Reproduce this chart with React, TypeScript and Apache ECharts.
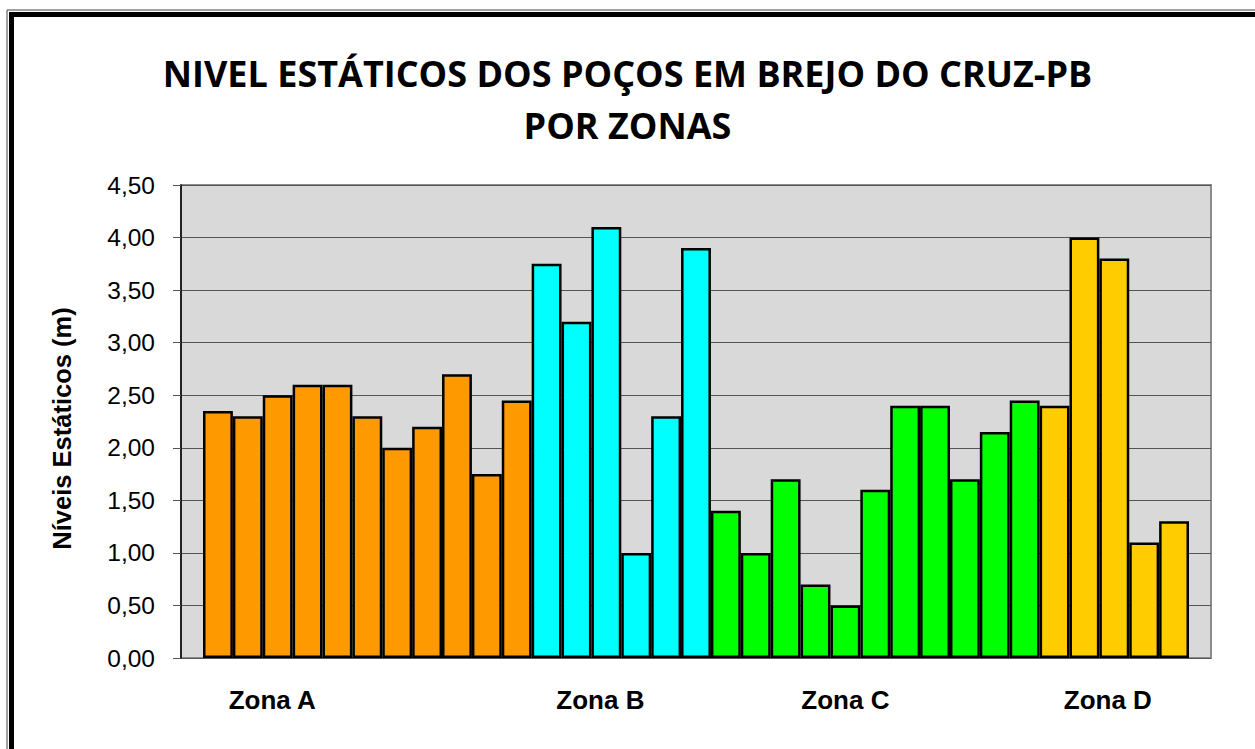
import React, { useEffect, useRef } from "react";
import * as echarts from "echarts";

const titleLines = ["NIVEL ESTÁTICOS DOS POÇOS EM BREJO DO CRUZ-PB", "POR ZONAS"];
const yAxisName = "Níveis Estáticos (m)";
const zoneNames = ["Zona A", "Zona B", "Zona C", "Zona D"];
const zoneA = [2.35, 2.3, 2.5, 2.6, 2.6, 2.3, 2.0, 2.2, 2.7, 1.75, 2.45];
const zoneB = [3.75, 3.2, 4.1, 1.0, 2.3, 3.9];
const zoneC = [1.4, 1.0, 1.7, 0.7, 0.5, 1.6, 2.4, 2.4, 1.7, 2.15, 2.45];
const zoneD = [2.4, 4.0, 3.8, 1.1, 1.3];
const zoneColors = ["#FF9900", "#00FFFF", "#00FF00", "#FFCC00"];
const zoneLabelIndex = [2, 13, 21, 30];
const zoneLabelNudge = [11, 12, 0, 13];
const yTicks = [0, 0.5, 1, 1.5, 2, 2.5, 3, 3.5, 4, 4.5];

export default function App() {
  const ref = useRef<HTMLDivElement>(null);
  useEffect(() => {
    if (!ref.current) return;
    const chart = echarts.init(ref.current, undefined, { renderer: "svg" });
    const zones = [zoneA, zoneB, zoneC, zoneD];
    const data: any[] = [];
    const cats: string[] = [];
    zones.forEach((z, zi) => {
      z.forEach((v) => {
        data.push({ value: v, itemStyle: { color: zoneColors[zi] } });
        cats.push("");
      });
    });
    const rich: any = {};
    zoneLabelIndex.forEach((idx, i) => {
      cats[idx] = "{z" + i + "|" + zoneNames[i] + "}";
      rich["z" + i] = {
        fontFamily: "Liberation Sans",
        fontWeight: "bold",
        fontSize: 26,
        color: "#000",
        padding: [0, zoneLabelNudge[i], 0, 0],
      };
    });
    const yMin = yTicks[0];
    const yMax = yTicks[yTicks.length - 1];
    const option: any = {
      animation: false,
      backgroundColor: "#ffffff",
      title: {
        text: titleLines.join("\n"),
        left: "center",
        top: 42,
        textStyle: {
          fontFamily: "Open Sans",
          fontWeight: "bold",
          fontSize: 36,
          lineHeight: 52,
          color: "#000",
        },
      },
      graphic: [
        {
          type: "rect",
          shape: { x: 7, y: 10, width: 1400, height: 900 },
          style: { fill: "none", stroke: "#444", lineWidth: 1 },
          silent: true,
        },
        {
          type: "rect",
          shape: { x: 11.5, y: 14.5, width: 1400, height: 900 },
          style: { fill: "none", stroke: "#000", lineWidth: 5 },
          silent: true,
        },
      ],
      grid: [
        {
          left: 181,
          top: 185,
          width: 1030,
          height: 473,
          show: true,
          backgroundColor: "#d9d9d9",
          borderColor: "#8c8c8c",
          borderWidth: 2,
        },
        { left: 203, top: 185, width: 986, height: 473 },
      ],
      xAxis: [
        { gridIndex: 0, type: "category", data: [""], show: false },
        {
          gridIndex: 1,
          type: "category",
          data: cats,
          axisLine: { show: false },
          axisTick: { show: false },
          axisLabel: {
            interval: 0,
            margin: 29,
            fontFamily: "Liberation Sans",
            fontWeight: "bold",
            fontSize: 26,
            color: "#000",
            rich,
          },
        },
      ],
      yAxis: [
        {
          gridIndex: 0,
          type: "value",
          min: yMin,
          max: yMax,
          interval: 0.5,
          name: yAxisName,
          nameLocation: "middle",
          nameGap: 106,
          nameTextStyle: {
            fontFamily: "Liberation Sans",
            fontWeight: "bold",
            fontSize: 25.5,
            color: "#000",
            padding: [0, 14, 0, 0],
          },
          axisLine: { show: true, lineStyle: { color: "#000", width: 1.5 } },
          axisTick: { show: true, length: 8, lineStyle: { color: "#555" } },
          axisLabel: {
            margin: 26,
            fontFamily: "Liberation Sans",
            fontSize: 24.5,
            color: "#000",
            formatter: (v: number) => v.toFixed(2).replace(".", ","),
          },
          splitLine: { show: true, lineStyle: { color: "#555", width: 1 } },
        },
        { gridIndex: 1, type: "value", min: yMin, max: yMax, show: false },
      ],
      series: [
        {
          type: "bar",
          xAxisIndex: 1,
          yAxisIndex: 1,
          barCategoryGap: 0,
          data,
          itemStyle: { borderColor: "#000", borderWidth: 2.5 },
        },
      ],
    };
    chart.setOption(option);
    return () => chart.dispose();
  }, []);
  return (
    <div
      ref={ref}
      style={{ position: "absolute", left: 0, top: 0, width: 1255, height: 749 }}
    />
  );
}
